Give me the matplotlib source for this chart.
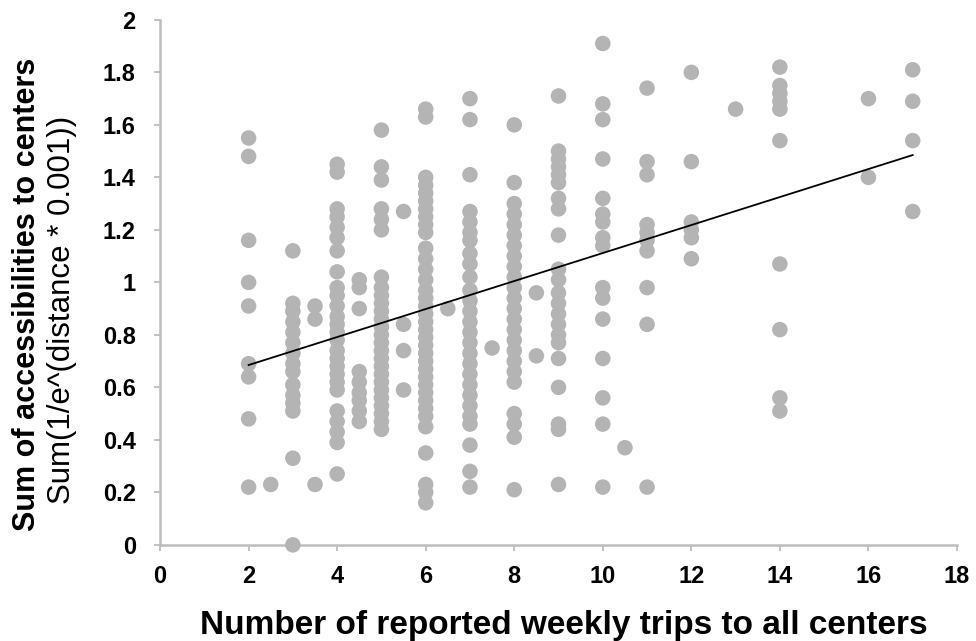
import matplotlib
matplotlib.use("Agg")
import matplotlib.pyplot as plt
import numpy as np

# ---- data ----
trips_2 = [1.55, 1.48, 1.16, 1.00, 0.91, 0.69, 0.64, 0.48, 0.22]
trips_2_5 = [0.23]
trips_3 = [1.12, 0.92, 0.89, 0.85, 0.81, 0.77, 0.73, 0.69, 0.66, 0.61, 0.57, 0.54, 0.51, 0.33, 0.0]
trips_3_5 = [0.91, 0.86, 0.23]
trips_4 = [1.45, 1.42, 1.28, 1.25, 1.21, 1.17, 1.12, 1.04, 0.98, 0.95, 0.91, 0.87, 0.84, 0.81,
           0.78, 0.74, 0.71, 0.68, 0.65, 0.62, 0.59, 0.51, 0.47, 0.43, 0.39, 0.27]
trips_4_5 = [1.01, 0.98, 0.90, 0.66, 0.62, 0.58, 0.55, 0.51, 0.47]
trips_5 = [1.58, 1.44, 1.39, 1.28, 1.24, 1.20, 1.02, 0.98, 0.95, 0.92, 0.89, 0.86, 0.83, 0.80,
           0.77, 0.74, 0.71, 0.68, 0.65, 0.62, 0.59, 0.56, 0.53, 0.50, 0.47, 0.44]
trips_5_5 = [1.27, 0.84, 0.74, 0.59]
trips_6 = [1.66, 1.63, 1.40, 1.37, 1.34, 1.31, 1.28, 1.25, 1.22, 1.19, 1.13, 1.09, 1.05, 1.01,
           0.97, 0.94, 0.91, 0.88, 0.85, 0.82, 0.79, 0.76, 0.73, 0.70, 0.67, 0.64, 0.61, 0.58,
           0.55, 0.52, 0.49, 0.45, 0.35, 0.23, 0.20, 0.16]
trips_6_5 = [0.90]
trips_7 = [1.70, 1.62, 1.41, 1.27, 1.23, 1.19, 1.16, 1.11, 1.07, 1.02, 0.97, 0.93, 0.89, 0.85,
           0.81, 0.77, 0.73, 0.69, 0.65, 0.61, 0.57, 0.53, 0.49, 0.46, 0.38, 0.28, 0.22]
trips_7_5 = [0.75]
trips_8 = [1.60, 1.38, 1.30, 1.26, 1.22, 1.18, 1.14, 1.10, 1.06, 1.02, 0.98, 0.94, 0.90, 0.86,
           0.82, 0.78, 0.74, 0.70, 0.66, 0.62, 0.50, 0.46, 0.41, 0.21]
trips_8_5 = [0.96, 0.72]
trips_9 = [1.71, 1.50, 1.47, 1.44, 1.41, 1.38, 1.32, 1.28, 1.18, 1.05, 1.01, 0.96, 0.92, 0.88,
           0.84, 0.80, 0.77, 0.71, 0.60, 0.46, 0.44, 0.23]
trips_10 = [1.91, 1.68, 1.62, 1.47, 1.32, 1.26, 1.23, 1.17, 1.14, 0.98, 0.94, 0.86, 0.71, 0.56, 0.46, 0.22]
trips_10_5 = [0.37]
trips_11 = [1.74, 1.46, 1.41, 1.22, 1.19, 1.16, 1.12, 0.98, 0.84, 0.22]
trips_12 = [1.80, 1.46, 1.23, 1.20, 1.17, 1.09]
trips_13 = [1.66]
trips_14 = [1.82, 1.75, 1.72, 1.69, 1.66, 1.54, 1.07, 0.82, 0.56, 0.51]
trips_16 = [1.70, 1.40]
trips_17 = [1.81, 1.69, 1.54, 1.27]

columns = {
    2: trips_2, 2.5: trips_2_5, 3: trips_3, 3.5: trips_3_5, 4: trips_4, 4.5: trips_4_5,
    5: trips_5, 5.5: trips_5_5, 6: trips_6, 6.5: trips_6_5, 7: trips_7, 7.5: trips_7_5,
    8: trips_8, 8.5: trips_8_5, 9: trips_9, 10: trips_10, 10.5: trips_10_5, 11: trips_11,
    12: trips_12, 13: trips_13, 14: trips_14, 16: trips_16, 17: trips_17,
}

trend_x = [2, 17]
trend_y = [0.685, 1.485]

x_ticks = [0, 2, 4, 6, 8, 10, 12, 14, 16, 18]
y_ticks = [0, 0.2, 0.4, 0.6, 0.8, 1, 1.2, 1.4, 1.6, 1.8, 2]
y_tick_labels = ["0", "0.2", "0.4", "0.6", "0.8", "1", "1.2", "1.4", "1.6", "1.8", "2"]

xs = []
ys = []
for k, vals in columns.items():
    xs.extend([k] * len(vals))
    ys.extend(vals)

# ---- figure ----
plt.rcParams['font.family'] = ['Liberation Sans', 'DejaVu Sans']
fig = plt.figure(figsize=(9.76, 6.41), dpi=100)
ax = fig.add_axes([0.164, 0.150, 0.8165, 0.819])

grey = '#b4b4b4'
ax.scatter(xs, ys, s=125, color=grey, edgecolors='none', zorder=3, clip_on=False)
ax.plot(trend_x, trend_y, color='black', lw=1.3, zorder=4)

ax.set_xlim(0, 18)
ax.set_ylim(0, 2)
ax.set_xticks(x_ticks)
ax.set_xticklabels([str(t) for t in x_ticks])
ax.set_yticks(y_ticks)
ax.set_yticklabels(y_tick_labels)

for s in ['top', 'right']:
    ax.spines[s].set_visible(False)
for s in ['left', 'bottom']:
    ax.spines[s].set_color('#bdbdbd')
    ax.spines[s].set_linewidth(1.8)

ax.tick_params(axis='both', colors='#bdbdbd', length=4.5, width=1.3, direction='out')
ax.tick_params(axis='x', pad=10, labelcolor='black', labelsize=17)
ax.tick_params(axis='y', pad=13, labelcolor='black', labelsize=17)
for lab in ax.get_xticklabels() + ax.get_yticklabels():
    lab.set_fontweight('bold')

fig.text(0.578, 1 - 634 / 641, "Number of reported weekly trips to all centers",
         ha='center', va='baseline', fontsize=24, fontweight='bold')
fig.text(0.028, 0.5406, "Sum of accessibilities to centers", rotation=90,
         ha='center', va='center', fontsize=22, fontweight='bold')
fig.text(0.064, 0.517, "Sum(1/e^(distance * 0.001))", rotation=90,
         ha='center', va='center', fontsize=22.5)

fig.savefig("out.png", dpi=100)
